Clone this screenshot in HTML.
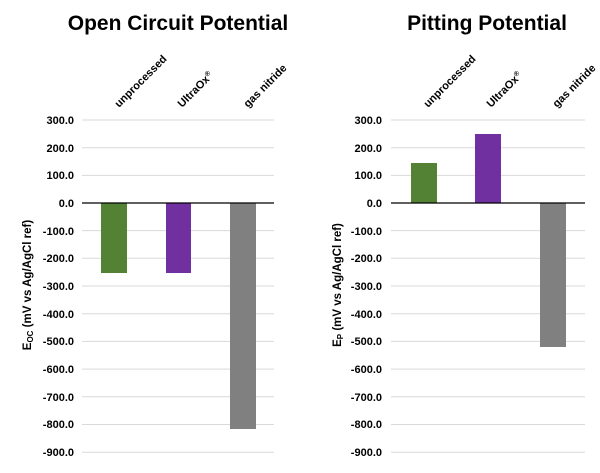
<!DOCTYPE html>
<html><head><style>body{margin:0;background:#fff}</style></head><body>
<svg width="600" height="468" xmlns="http://www.w3.org/2000/svg" font-family="Liberation Sans, sans-serif">
<rect width="600" height="468" fill="#fff"/>
<g id="L">
<text x="178" y="30" font-size="21" font-weight="bold" text-anchor="middle" fill="#000">Open Circuit Potential</text>
<g stroke="#d9d9d9" stroke-width="1">
<line x1="82" x2="274" y1="120" y2="120"/><line x1="82" x2="274" y1="147.7" y2="147.7"/><line x1="82" x2="274" y1="175.4" y2="175.4"/>
<line x1="82" x2="274" y1="230.6" y2="230.6"/><line x1="82" x2="274" y1="258.3" y2="258.3"/><line x1="82" x2="274" y1="286" y2="286"/>
<line x1="82" x2="274" y1="313.7" y2="313.7"/><line x1="82" x2="274" y1="341.4" y2="341.4"/><line x1="82" x2="274" y1="369.1" y2="369.1"/>
<line x1="82" x2="274" y1="396.8" y2="396.8"/><line x1="82" x2="274" y1="424.5" y2="424.5"/><line x1="82" x2="274" y1="452.2" y2="452.2"/>
</g>
<rect x="101" y="203" width="26" height="70" fill="#548235"/>
<rect x="166" y="203" width="25" height="70" fill="#7030a0"/>
<rect x="230" y="203" width="26" height="226" fill="#808080"/>
<line x1="82" x2="274" y1="203" y2="203" stroke="#000" stroke-width="1.3"/>
<g font-size="11" font-weight="bold" text-anchor="end" fill="#000">
<text x="74" y="124">300.0</text><text x="74" y="152">200.0</text><text x="74" y="179">100.0</text><text x="74" y="207">0.0</text>
<text x="74" y="235">-100.0</text><text x="74" y="262">-200.0</text><text x="74" y="290">-300.0</text><text x="74" y="318">-400.0</text>
<text x="74" y="345">-500.0</text><text x="74" y="373">-600.0</text><text x="74" y="401">-700.0</text><text x="74" y="428">-800.0</text><text x="74" y="456">-900.0</text>
</g>
<g font-size="11" font-weight="bold" fill="#000">
<text transform="translate(119,108) rotate(-45)">unprocessed</text>
<text transform="translate(182,108) rotate(-45)">UltraOx<tspan font-size="7" dy="-4">®</tspan></text>
<text transform="translate(248,108) rotate(-45)">gas nitride</text>
</g>
<text transform="translate(31,285) rotate(-90)" font-size="11.5" font-weight="bold" text-anchor="middle" fill="#000">E<tspan font-size="8" dy="2">OC</tspan><tspan dy="-2"> (mV vs Ag/AgCl ref)</tspan></text>
</g>
<g id="R">
<text x="487" y="30" font-size="21" font-weight="bold" text-anchor="middle" fill="#000">Pitting Potential</text>
<g stroke="#d9d9d9" stroke-width="1">
<line x1="391" x2="585" y1="120" y2="120"/><line x1="391" x2="585" y1="147.7" y2="147.7"/><line x1="391" x2="585" y1="175.4" y2="175.4"/>
<line x1="391" x2="585" y1="230.6" y2="230.6"/><line x1="391" x2="585" y1="258.3" y2="258.3"/><line x1="391" x2="585" y1="286" y2="286"/>
<line x1="391" x2="585" y1="313.7" y2="313.7"/><line x1="391" x2="585" y1="341.4" y2="341.4"/><line x1="391" x2="585" y1="369.1" y2="369.1"/>
<line x1="391" x2="585" y1="396.8" y2="396.8"/><line x1="391" x2="585" y1="424.5" y2="424.5"/><line x1="391" x2="585" y1="452.2" y2="452.2"/>
</g>
<rect x="411" y="163" width="26" height="40" fill="#548235"/>
<rect x="475" y="134" width="26" height="69" fill="#7030a0"/>
<rect x="540" y="203" width="26" height="144" fill="#808080"/>
<line x1="391" x2="585" y1="203" y2="203" stroke="#000" stroke-width="1.3"/>
<g font-size="11" font-weight="bold" text-anchor="end" fill="#000">
<text x="382" y="124">300.0</text><text x="382" y="152">200.0</text><text x="382" y="179">100.0</text><text x="382" y="207">0.0</text>
<text x="382" y="235">-100.0</text><text x="382" y="262">-200.0</text><text x="382" y="290">-300.0</text><text x="382" y="318">-400.0</text>
<text x="382" y="345">-500.0</text><text x="382" y="373">-600.0</text><text x="382" y="401">-700.0</text><text x="382" y="428">-800.0</text><text x="382" y="456">-900.0</text>
</g>
<g font-size="11" font-weight="bold" fill="#000">
<text transform="translate(428,108) rotate(-45)">unprocessed</text>
<text transform="translate(491,108) rotate(-45)">UltraOx<tspan font-size="7" dy="-4">®</tspan></text>
<text transform="translate(557,108) rotate(-45)">gas nitride</text>
</g>
<text transform="translate(341,285) rotate(-90)" font-size="11.5" font-weight="bold" text-anchor="middle" fill="#000">E<tspan font-size="8" dy="2">P</tspan><tspan dy="-2"> (mV vs Ag/AgCl ref)</tspan></text>
</g>
</svg>
</body></html>
